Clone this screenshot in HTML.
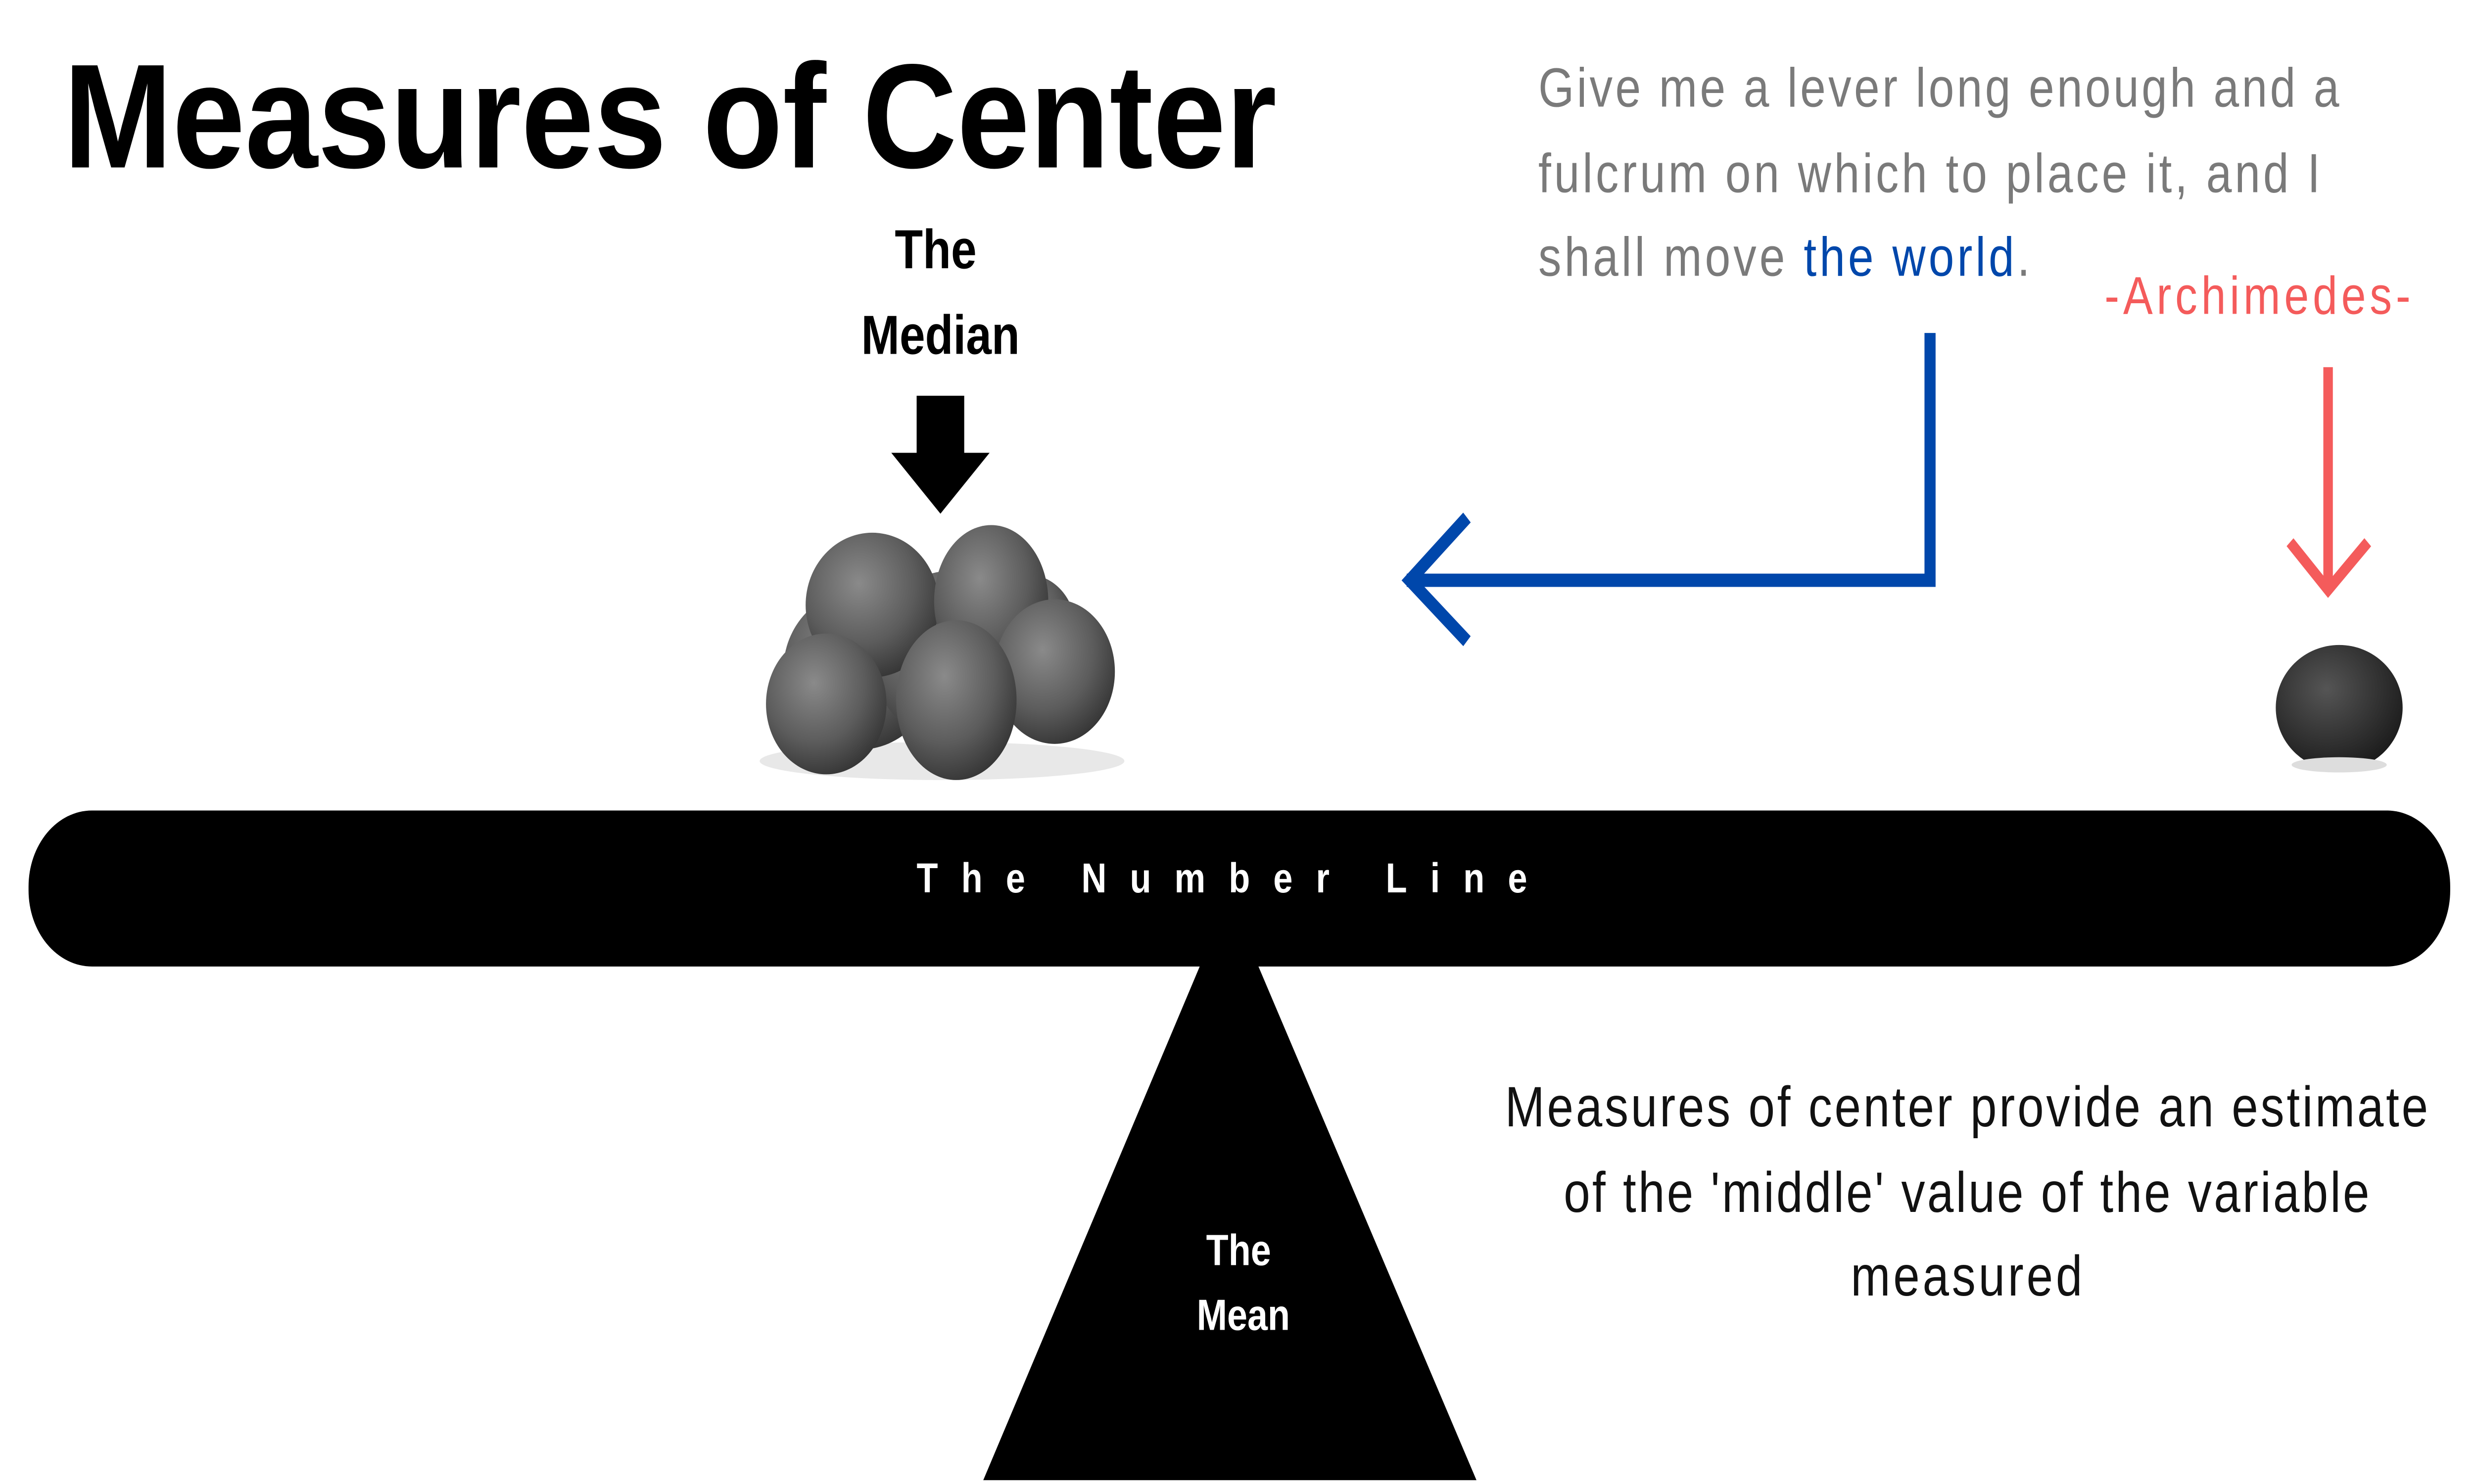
<!DOCTYPE html>
<html><head><meta charset="utf-8"><style>
html,body{margin:0;padding:0;background:#fff;overflow:hidden;width:100vw;height:100vh}
svg{display:block;position:absolute;left:0;top:0;width:100vw;height:100vh}
</style></head><body>
<svg viewBox="0 0 1560 780" preserveAspectRatio="none" xmlns="http://www.w3.org/2000/svg">
<defs>
<radialGradient id="rk" cx="40%" cy="35%" r="70%">
<stop offset="0" stop-color="#8a8a8a"/><stop offset="0.6" stop-color="#5c5c5c"/><stop offset="1" stop-color="#333"/>
</radialGradient>
<radialGradient id="rk2" cx="40%" cy="35%" r="70%">
<stop offset="0" stop-color="#555"/><stop offset="1" stop-color="#1a1a1a"/>
</radialGradient>
</defs>
<rect width="1560" height="780" fill="#fff"/>
<text x="40" y="88" font-family="Liberation Sans, sans-serif" font-weight="bold" font-size="78" fill="#000" textLength="765" lengthAdjust="spacingAndGlyphs">Measures of Center</text>
<g font-family="Liberation Sans, sans-serif" font-weight="bold" font-size="29" fill="#000" text-anchor="middle">
<text x="590" y="141">The</text><text x="593" y="186">Median</text>
</g>
<polygon points="578,208 608,208 608,238 624,238 593,270 562,238 578,238" fill="#000"/>
<g font-family="Liberation Sans, sans-serif" font-size="29" fill="#7a7a7a" lengthAdjust="spacingAndGlyphs">
<text x="970" y="56" textLength="505">Give me a lever long enough and a</text>
<text x="970" y="101" textLength="493">fulcrum on which to place it, and I</text>
<text x="970" y="145" textLength="310">shall move <tspan fill="#0047ab">the world</tspan>.</text>
</g>
<text x="1327" y="165" font-family="Liberation Sans, sans-serif" font-size="28" fill="#f45b5b" textLength="193">-Archimedes-</text>
<polyline points="1217,175 1217,305 887,305" fill="none" stroke="#0047ab" stroke-width="7"/>
<polyline points="925,272 889,305 925,337" fill="none" stroke="#0047ab" stroke-width="7"/>
<line x1="1468" y1="193" x2="1468" y2="308" stroke="#f45b5b" stroke-width="6"/>
<polyline points="1444,285 1468,310 1493,285" fill="none" stroke="#f45b5b" stroke-width="6"/>
<ellipse cx="594" cy="400" rx="115" ry="10" fill="#e8e8e8"/>
<ellipse cx="542" cy="352" rx="48" ry="42" fill="url(#rk)"/>
<ellipse cx="648" cy="330" rx="30" ry="28" fill="url(#rk)"/>
<ellipse cx="600" cy="345" rx="50" ry="45" fill="url(#rk)"/>
<ellipse cx="550" cy="318" rx="42" ry="38" fill="url(#rk)"/>
<ellipse cx="625" cy="316" rx="36" ry="40" fill="url(#rk)"/>
<ellipse cx="665" cy="353" rx="38" ry="38" fill="url(#rk)"/>
<ellipse cx="521" cy="370" rx="38" ry="37" fill="url(#rk)"/>
<ellipse cx="603" cy="368" rx="38" ry="42" fill="url(#rk)"/>
<ellipse cx="1475" cy="372" rx="40" ry="33" fill="url(#rk2)"/>
<ellipse cx="1475" cy="402" rx="30" ry="4" fill="#ddd"/>
<rect x="18" y="426" width="1527" height="82" rx="40" fill="#000"/>
<text x="578" y="469" font-family="Liberation Sans, sans-serif" font-weight="bold" font-size="22" fill="#fff" textLength="385">The Number Line</text>
<polygon points="758,505 792,505 931,778 620,778" fill="#000"/>
<g font-family="Liberation Sans, sans-serif" font-weight="bold" font-size="23" fill="#fff" text-anchor="middle">
<text x="781" y="665">The</text><text x="784" y="699">Mean</text>
</g>
<g font-family="Liberation Sans, sans-serif" font-size="30" fill="#111" lengthAdjust="spacingAndGlyphs">
<text x="949" y="592" textLength="582">Measures of center provide an estimate</text>
<text x="986" y="637" textLength="508">of the 'middle' value of the variable</text>
<text x="1167" y="681" textLength="146">measured</text>
</g>
</svg>
</body></html>
